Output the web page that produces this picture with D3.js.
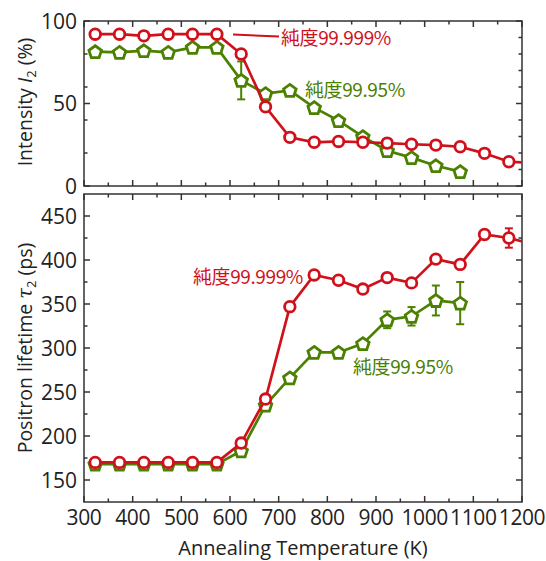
<!DOCTYPE html>
<html>
<head>
<meta charset="utf-8">
<script src="https://cdn.jsdelivr.net/npm/d3@7"></script>
<style>
  body { margin: 0; background: #fff; }
  text { font-family: "Open Sans", "Noto Sans", sans-serif; }
  .cjk { font-family: "Noto Sans CJK JP", "Noto Sans CJK SC", sans-serif; }
</style>
</head>
<body>
<svg id="chart" width="546" height="561"></svg>
<script>
// annealing temperatures (K)
var temps = [323, 373, 423, 473, 523, 573, 623, 673, 723, 773, 823, 873, 923, 973, 1023, 1073, 1123, 1173, 1223];

// intensity I2 (%)
var pureI2 = [92, 92, 91, 92, 92, 92, 80, 48, 29.5, 26.5, 27, 26.5, 26, 25.3, 24.8, 23.8, 19.8, 14.7, 14];
var greenI2 = [81.4, 81, 82, 81, 84, 84, 64, 56, 58, 47.5, 39.6, 29.9, 21.4, 17.2, 12.3, 8.7];
var greenI2Err = [0, 0, 0, 0, 0, 0, 11.5, 0, 0, 0, 0, 0, 0, 0, 0, 0];

// positron lifetime tau2 (ps)
var pureTau = [170, 170, 170, 170, 170, 170, 192, 242, 347, 383, 377, 367, 380, 374, 401, 395, 429, 425, 418];
var pureTauErr = [0, 0, 0, 0, 0, 0, 0, 0, 0, 0, 0, 0, 0, 0, 0, 0, 0, 11, 0];
var greenTau = [168, 168, 168, 168, 168, 168, 183, 235, 266, 295, 295, 305, 332, 336, 354, 351];
var greenTauErr = [0, 0, 0, 0, 0, 0, 0, 0, 0, 0, 0, 0, 9.5, 10.5, 17, 24];

var xTicks = [300, 400, 500, 600, 700, 800, 900, 1000, 1100, 1200];

var RED = "#d0111b", GREEN = "#4b8000";

var svg = d3.select("#chart");
var left = 84, right = 522;

var x = d3.scaleLinear().domain([300, 1200]).range([left, right]);
var yTop = d3.scaleLinear().domain([0, 100]).range([186, 21]);
var yBot = d3.scaleLinear().domain([125, 475]).range([502, 194]);

svg.append("defs").append("clipPath").attr("id", "clipTop")
    .append("rect").attr("x", left).attr("y", 0).attr("width", right - left).attr("height", 190);
svg.select("defs").append("clipPath").attr("id", "clipBot")
    .append("rect").attr("x", left).attr("y", 190).attr("width", right - left).attr("height", 330);

function pentagon(r) {
    var pts = d3.range(5).map(function (i) {
        var a = -Math.PI / 2 + i * 2 * Math.PI / 5;
        return [r * Math.cos(a), r * Math.sin(a) + r * 0.1];
    });
    return "M" + pts.join("L") + "Z";
}

function frame(y, top, bottom, majors, minorsL, minorsR, xLabels) {
    var g = svg.append("g");
    var ax = "#333";
    function tick(x1, y1, x2, y2) {
        g.append("line").attr("x1", x1).attr("y1", y1).attr("x2", x2).attr("y2", y2)
            .attr("stroke", ax).attr("stroke-width", 1.5);
    }
    d3.range(300, 1201, 50).forEach(function (t) {
        var len = t % 100 === 0 ? 6 : 3.5;
        tick(x(t), bottom, x(t), bottom - len);
        tick(x(t), top, x(t), top + len);
    });
    majors.forEach(function (v) {
        tick(left, y(v), left + 6, y(v));
        tick(right, y(v), right - 6, y(v));
        g.append("text").attr("x", left - 7).attr("y", y(v)).attr("dy", "0.36em")
            .attr("text-anchor", "end").attr("font-size", 21).attr("fill", "#222").text(v);
    });
    minorsL.forEach(function (v) { tick(left, y(v), left + 3.5, y(v)); });
    minorsR.forEach(function (v) { tick(right, y(v), right - 3.5, y(v)); });
    g.append("rect").attr("x", left).attr("y", top).attr("width", right - left).attr("height", bottom - top)
        .attr("fill", "none").attr("stroke", ax).attr("stroke-width", 1.5);
    if (xLabels) {
        xTicks.forEach(function (t) {
            g.append("text").attr("x", x(t)).attr("y", bottom + 23).attr("text-anchor", "middle")
                .attr("font-size", 21).attr("letter-spacing", -0.4).attr("fill", "#222").text(t);
        });
    }
}

function series(clip, y, vals, errs, color, shape) {
    var g = svg.append("g").attr("clip-path", "url(#" + clip + ")");
    var data = vals.map(function (v, i) { return { t: temps[i], v: v, e: errs ? errs[i] : 0 }; });
    g.append("path").datum(data)
        .attr("d", d3.line().x(function (d) { return x(d.t); }).y(function (d) { return y(d.v); }))
        .attr("fill", "none").attr("stroke", color).attr("stroke-width", 2.7);
    data.filter(function (d) { return d.e > 0; }).forEach(function (d) {
        var cx = x(d.t), y1 = y(d.v - d.e), y2 = y(d.v + d.e);
        g.append("line").attr("x1", cx).attr("x2", cx).attr("y1", y1).attr("y2", y2)
            .attr("stroke", color).attr("stroke-width", 2);
        [y1, y2].forEach(function (yy) {
            g.append("line").attr("x1", cx - 4).attr("x2", cx + 4).attr("y1", yy).attr("y2", yy)
                .attr("stroke", color).attr("stroke-width", 2);
        });
    });
    if (shape === "circle") {
        g.selectAll("circle").data(data).enter().append("circle")
            .attr("cx", function (d) { return x(d.t); }).attr("cy", function (d) { return y(d.v); })
            .attr("r", 5.3).attr("fill", "#fff").attr("stroke", color).attr("stroke-width", 2.8);
    } else {
        g.selectAll(".pent").data(data).enter().append("path")
            .attr("transform", function (d) { return "translate(" + x(d.t) + "," + y(d.v) + ")"; })
            .attr("d", pentagon(6.6)).attr("fill", "#fff").attr("stroke", color)
            .attr("stroke-width", 2.8).attr("stroke-linejoin", "miter");
    }
}

// top panel
frame(yTop, 21, 186, [0, 50, 100], [20, 40, 60, 80], d3.range(10, 100, 10).filter(function (v) { return v !== 50; }), false);
series("clipTop", yTop, greenI2, greenI2Err, GREEN, "pentagon");
series("clipTop", yTop, pureI2, null, RED, "circle");

// bottom panel
frame(yBot, 194, 502, [150, 200, 250, 300, 350, 400, 450], [175, 225, 275, 325, 375, 425], [175, 225, 275, 325, 375, 425], true);
series("clipBot", yBot, greenTau, greenTauErr, GREEN, "pentagon");
series("clipBot", yBot, pureTau, pureTauErr, RED, "circle");

// annotations
svg.append("line").attr("x1", 233).attr("y1", 34.5).attr("x2", 279).attr("y2", 36.5)
    .attr("stroke", RED).attr("stroke-width", 2);
function note(tx, ty, str, color) {
    svg.append("text").attr("class", "cjk").attr("x", tx).attr("y", ty).attr("dy", "0.35em")
        .attr("font-size", 19).attr("fill", color).attr("letter-spacing", -0.4).text(str);
}
note(281, 38, "純度99.999%", RED);
note(305, 90, "純度99.95%", GREEN);
note(193, 277, "純度99.999%", RED);
note(353, 367, "純度99.95%", GREEN);

// axis titles
var t1 = svg.append("text").attr("transform", "translate(32,102) rotate(-90)")
    .attr("text-anchor", "middle").attr("font-size", 19.5).attr("fill", "#222");
t1.append("tspan").text("Intensity ");
t1.append("tspan").attr("font-style", "italic").text("I");
t1.append("tspan").attr("font-size", 13).attr("dy", 4).text("2");
t1.append("tspan").attr("dy", -4).text(" (%)");

var t2 = svg.append("text").attr("transform", "translate(32,348) rotate(-90)")
    .attr("text-anchor", "middle").attr("font-size", 19.5).attr("fill", "#222");
t2.append("tspan").text("Positron lifetime ");
t2.append("tspan").attr("font-style", "italic").attr("font-family", "DejaVu Serif").text("τ");
t2.append("tspan").attr("font-size", 13).attr("dy", 4).text("2");
t2.append("tspan").attr("dy", -4).text(" (ps)");

svg.append("text").attr("x", (left + right) / 2).attr("y", 555).attr("text-anchor", "middle")
    .attr("font-size", 20).attr("fill", "#222").text("Annealing Temperature (K)");
</script>
</body>
</html>
